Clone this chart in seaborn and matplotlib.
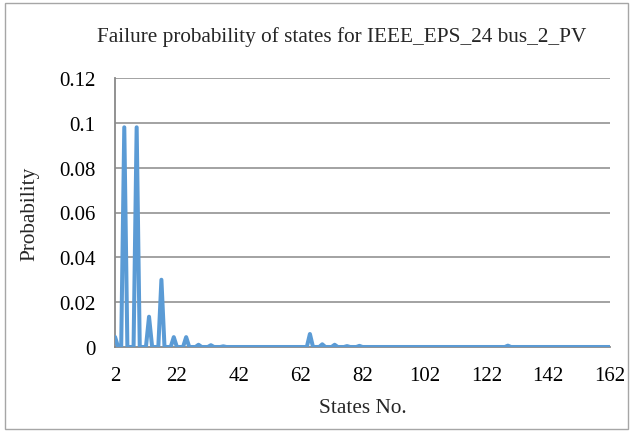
import numpy as np
import pandas as pd
import matplotlib
matplotlib.use("Agg")
import matplotlib.pyplot as plt
import seaborn as sns
from matplotlib.patches import Rectangle

# Data
states = list(range(2, 163))
peak_states = [2, 5, 9, 13, 17, 21, 25, 29, 33, 37, 65, 69, 73, 77, 81, 129]
peak_values = [0.0045, 0.098, 0.098, 0.0135, 0.030, 0.0044, 0.0044, 0.0010,
               0.0008, 0.0003, 0.0058, 0.0012, 0.0010, 0.0004, 0.0005, 0.0006]
baseline_value = 0.0

x_ticks = [2, 22, 42, 62, 82, 102, 122, 142, 162]
y_ticks = [0, 0.02, 0.04, 0.06, 0.08, 0.1, 0.12]
y_tick_labels = ["0", "0.02", "0.04", "0.06", "0.08", "0.1", "0.12"]
title = "Failure probability of states for IEEE_EPS_24 bus_2_PV"

prob = {s: baseline_value for s in states}
for s, v in zip(peak_states, peak_values):
    prob[s] = v
df = pd.DataFrame({"State": states, "Probability": [prob[s] for s in states]})

sns.set_theme(style="white")
plt.rcParams['font.family'] = ['Liberation Serif', 'DejaVu Serif']

fig = plt.figure(figsize=(6.36, 4.35), dpi=100)
ax = fig.add_axes([115/636, 1-348/435, (610-115)/636, (348-79)/435])

grid_color = "#898989"
for yv in y_ticks[1:]:
    ax.axhline(yv, color=grid_color, lw=1.1, zorder=0)

sns.lineplot(data=df, x="State", y="Probability", ax=ax, color="#5B9BD5",
             lw=2.9, zorder=3)

ax.set_xlim(2, 162)
ax.set_ylim(0, 0.12)
ax.set_xticks(x_ticks)
ax.set_xticklabels([str(t) for t in x_ticks], fontsize=15)
ax.set_yticks(y_ticks)
ax.set_yticklabels(y_tick_labels, fontsize=15)
ax.tick_params(axis='x', pad=14, length=0, colors="black")
ax.tick_params(axis='y', pad=14, length=0, colors="black")

for side in ["top", "right"]:
    ax.spines[side].set_visible(False)
ax.spines["left"].set_color(grid_color)
ax.spines["left"].set_linewidth(1.3)
ax.spines["bottom"].set_color(grid_color)
ax.spines["bottom"].set_linewidth(1.3)

ax.set_xlabel("States No.", fontsize=15.3, labelpad=9)
ax.set_ylabel("Probability", fontsize=15.3, labelpad=14)
fig.text(342/636, 1-37/435, title, ha="center", va="center", fontsize=15.3)

fig.patches.append(Rectangle((5/636, 5/435), 623/636, 426/435, transform=fig.transFigure,
                             fill=False, edgecolor="#A6A6A6", lw=1.0))

fig.savefig("out.png", dpi=100)
